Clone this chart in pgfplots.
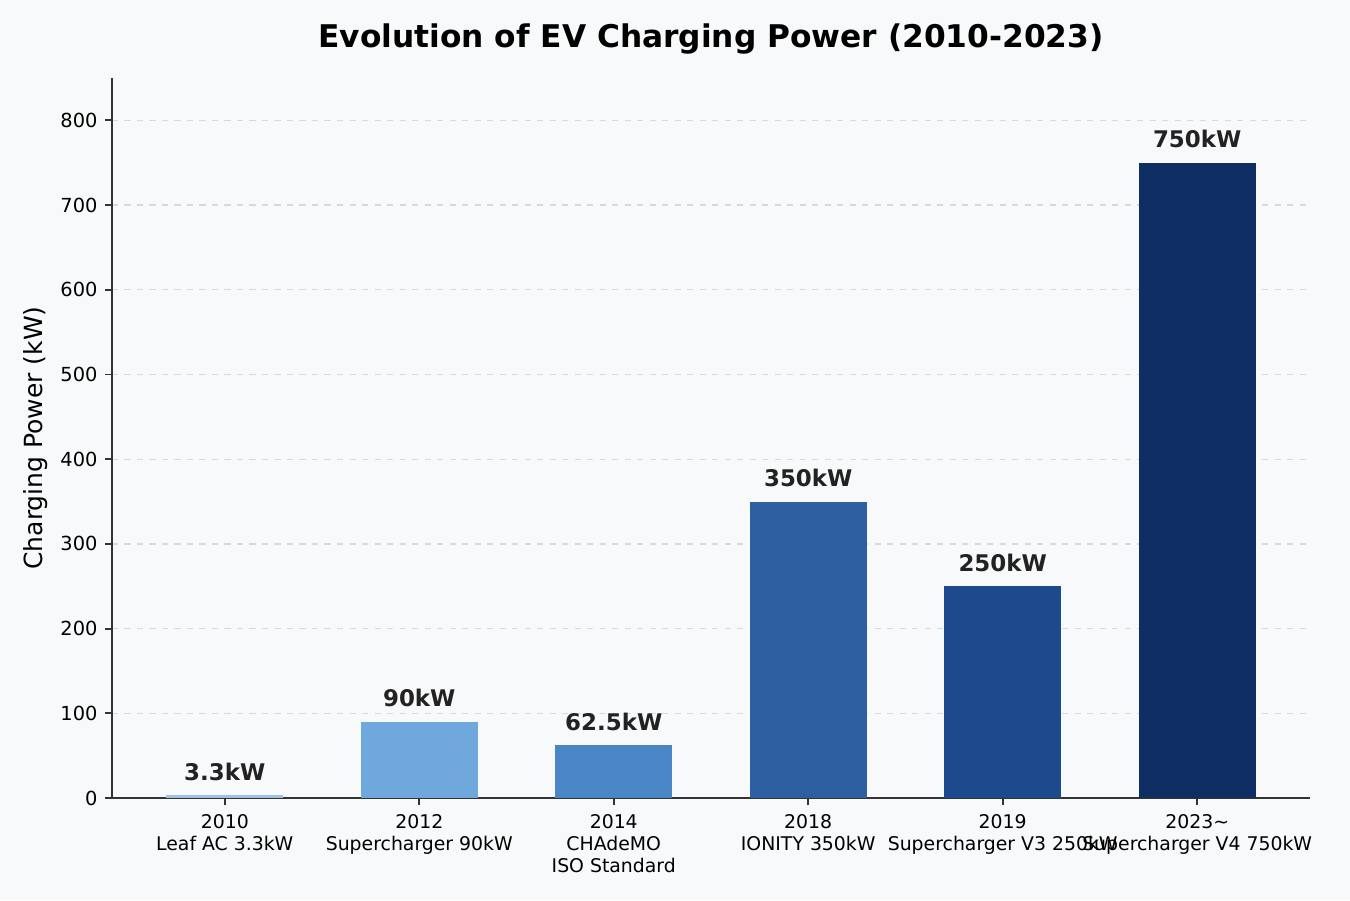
\documentclass[border=0pt]{standalone}
\usepackage{fontspec}
\setmainfont{DejaVu Sans}
\usepackage{pgfplots}
\pgfplotsset{compat=1.18}
\definecolor{bg}{HTML}{F8F9FA}
\definecolor{spine}{HTML}{333333}
\definecolor{gridc}{HTML}{D9D9D9}
\definecolor{lab}{HTML}{222222}
\definecolor{c1}{HTML}{9EC2E6}
\definecolor{c2}{HTML}{6FA8DC}
\definecolor{c3}{HTML}{4A86C6}
\definecolor{c4}{HTML}{2E5FA1}
\definecolor{c5}{HTML}{1C4A8C}
\definecolor{c6}{HTML}{0E2D62}
\begin{document}
\begin{tikzpicture}
\fill[bg] (-53.76pt,-48.96pt) rectangle (594.24pt,383.04pt);
\begin{axis}[
  at={(0,0)}, anchor=south west,
  scale only axis, width=575.04pt, height=345.6pt,
  xmin=-0.58, xmax=5.58, ymin=0, ymax=850,
  axis x line*=bottom, axis y line*=left,
  axis line style={-, spine, line width=0.9pt},
  every tick/.style={spine, line width=0.9pt},
  tick align=outside, major tick length=3.4pt,
  ytick={0,100,...,800},
  xtick={0,1,2,3,4,5},
  xticklabels={{2010\\Leaf AC 3.3kW},{2012\\Supercharger 90kW},{2014\\CHAdeMO\\ISO Standard},{2018\\IONITY 350kW},{2019\\Supercharger V3 250kW},{2023\textasciitilde\\Supercharger V4 750kW}},
  xticklabel style={align=center, font=\fontsize{9.05}{10.5}\selectfont, text=black, inner sep=0pt, yshift=-4.4pt},
  yticklabel style={font=\fontsize{9.3}{11}\selectfont, text=black, inner sep=0pt, xshift=-3.4pt},
  /pgf/number format/assume math mode=true,
  ymajorgrids, grid style={gridc, dashed, line width=0.6pt},
  ylabel={Charging Power (kW)},
  ylabel style={at={(axis description cs:-0.0635,0.5)}, anchor=center, font=\fontsize{12}{14}\selectfont},
  title={Evolution of EV Charging Power (2010-2023)},
  title style={at={(axis description cs:0.5,1)}, anchor=base, yshift=8.7pt, font=\fontsize{15}{17}\bfseries},
  ybar, bar width=0.6, bar shift=0pt,
  point meta=explicit symbolic,
  nodes near coords,
  every node near coord/.append style={anchor=base, yshift=7.2pt, inner sep=0pt, font=\fontsize{11}{13}\bfseries, text=lab},
]
\addplot[fill=c1, draw=none] coordinates {(0,3.3) [3.3kW]};
\addplot[fill=c2, draw=none] coordinates {(1,90) [90kW]};
\addplot[fill=c3, draw=none] coordinates {(2,62.5) [62.5kW]};
\addplot[fill=c4, draw=none] coordinates {(3,350) [350kW]};
\addplot[fill=c5, draw=none] coordinates {(4,250) [250kW]};
\addplot[fill=c6, draw=none] coordinates {(5,750) [750kW]};
\end{axis}
\pgfresetboundingbox
\useasboundingbox (-53.76pt,-48.96pt) rectangle (594.24pt,383.04pt);
\end{tikzpicture}
\end{document}
